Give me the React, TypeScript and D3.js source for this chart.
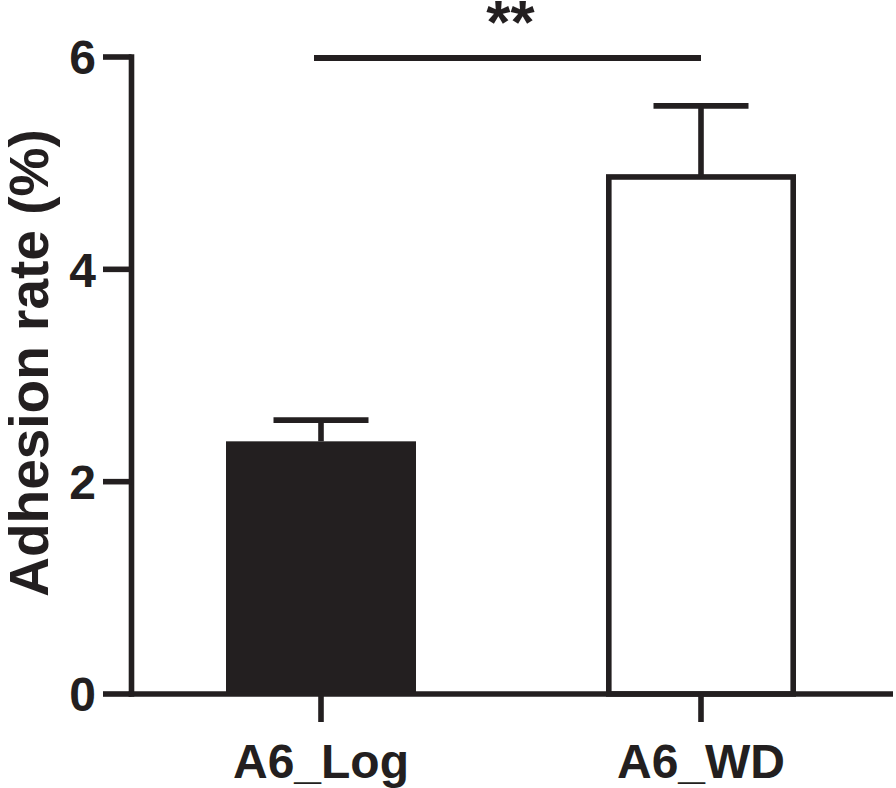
import { useEffect, useRef } from "react";
import * as d3 from "d3";

const categories = ["A6_Log", "A6_WD"];
const means = [2.38, 4.87];
const errors = [0.2, 0.67];
const barFills = ["#231f20", "#ffffff"];
const yTicks = [0, 2, 4, 6];
const sigLabel = "**";
const yTitle = "Adhesion rate (%)";

const INK = "#231f20";
const FONT = "Arial, 'Liberation Sans', Helvetica, sans-serif";

export default function App() {
  const ref = useRef<SVGSVGElement | null>(null);

  useEffect(() => {
    const el = ref.current;
    if (!el) return;
    const svg = d3.select(el);
    svg.selectAll("*").remove();

    const W = 896;
    const H = 788;
    const left = 131.5;
    const right = 893;
    const y0 = 694;
    const yTop = 57;
    const lw = 5.6;

    const x = d3
      .scaleBand<string>()
      .domain(categories)
      .range([131, 891])
      .paddingInner(0.5)
      .paddingOuter(0.25);
    const y = d3.scaleLinear().domain([0, 6]).range([y0, yTop]);

    svg.attr("width", W).attr("height", H).attr("viewBox", `0 0 ${W} ${H}`);

    // bars
    categories.forEach((c, i) => {
      const bx = x(c)!;
      const bw = x.bandwidth();
      const top = y(means[i]);
      const filled = barFills[i] !== "#ffffff";
      const inset = filled ? 0 : lw / 2;
      svg
        .append("rect")
        .attr("x", bx + inset)
        .attr("y", top)
        .attr("width", bw - inset * 2)
        .attr("height", y0 - top)
        .attr("fill", barFills[i])
        .attr("stroke", filled ? "none" : INK)
        .attr("stroke-width", lw);

      // error bar (upper only)
      const cx = bx + bw / 2;
      const eTop = y(means[i] + errors[i]);
      const capW = bw / 2;
      svg
        .append("line")
        .attr("x1", cx)
        .attr("x2", cx)
        .attr("y1", top)
        .attr("y2", eTop)
        .attr("stroke", INK)
        .attr("stroke-width", lw);
      svg
        .append("line")
        .attr("x1", cx - capW / 2)
        .attr("x2", cx + capW / 2)
        .attr("y1", eTop)
        .attr("y2", eTop)
        .attr("stroke", INK)
        .attr("stroke-width", lw);
    });

    // y axis
    svg
      .append("line")
      .attr("x1", left)
      .attr("x2", left)
      .attr("y1", yTop - lw / 2)
      .attr("y2", y0 + lw / 2)
      .attr("stroke", INK)
      .attr("stroke-width", lw);
    const yt = svg.append("g");
    yTicks.forEach((t) => {
      yt.append("line")
        .attr("x1", 103)
        .attr("x2", left)
        .attr("y1", y(t))
        .attr("y2", y(t))
        .attr("stroke", INK)
        .attr("stroke-width", lw);
      yt.append("text")
        .attr("x", 96)
        .attr("y", y(t))
        .attr("dy", "0.36em")
        .attr("text-anchor", "end")
        .attr("font-family", FONT)
        .attr("font-weight", 700)
        .attr("font-size", 48)
        .attr("fill", INK)
        .text(String(t));
    });

    // x axis
    svg
      .append("line")
      .attr("x1", left - lw / 2)
      .attr("x2", right)
      .attr("y1", y0)
      .attr("y2", y0)
      .attr("stroke", INK)
      .attr("stroke-width", lw);
    categories.forEach((c) => {
      const cx = x(c)! + x.bandwidth() / 2;
      svg
        .append("line")
        .attr("x1", cx)
        .attr("x2", cx)
        .attr("y1", y0)
        .attr("y2", 722)
        .attr("stroke", INK)
        .attr("stroke-width", lw);
      svg
        .append("text")
        .attr("x", cx)
        .attr("y", 778)
        .attr("text-anchor", "middle")
        .attr("font-family", FONT)
        .attr("font-weight", 700)
        .attr("font-size", 48)
        .attr("fill", INK)
        .text(c);
    });

    // y title
    svg
      .append("text")
      .attr("transform", `translate(48,363) rotate(-90)`)
      .attr("text-anchor", "middle")
      .attr("font-family", FONT)
      .attr("font-weight", 700)
      .attr("font-size", 55)
      .attr("fill", INK)
      .text(yTitle);

    // significance bracket
    const sx1 = x(categories[0])! + x.bandwidth() / 2 - 7;
    const sx2 = x(categories[1])! + x.bandwidth() / 2;
    const sy = 58;
    svg
      .append("line")
      .attr("x1", sx1)
      .attr("x2", sx2)
      .attr("y1", sy)
      .attr("y2", sy)
      .attr("stroke", INK)
      .attr("stroke-width", lw + 0.4);
    svg
      .append("text")
      .attr("x", (sx1 + sx2) / 2 + 3)
      .attr("y", 43)
      .attr("text-anchor", "middle")
      .attr("font-family", FONT)
      .attr("font-weight", 700)
      .attr("font-size", 62)
      .attr("fill", INK)
      .text(sigLabel);
  }, []);

  return (
    <svg
      ref={ref}
      style={{ position: "absolute", left: 0, top: 0, display: "block", background: "#fff" }}
    />
  );
}
